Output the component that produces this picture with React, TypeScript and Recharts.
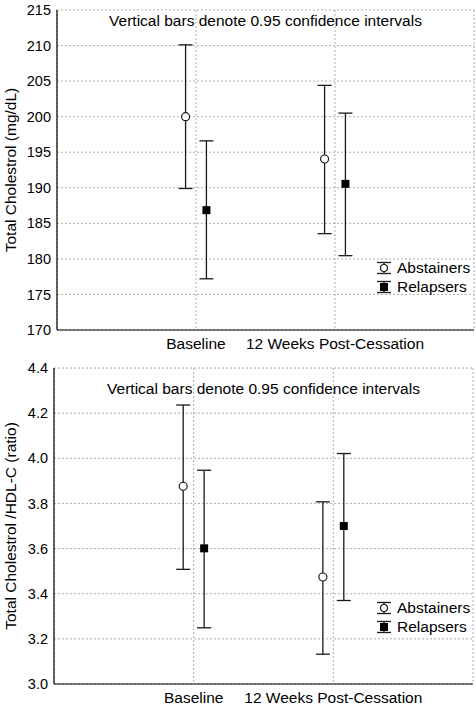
import React from 'react'
import { ComposedChart, Scatter, ErrorBar, XAxis, YAxis, CartesianGrid } from 'recharts'

const categories = ['Baseline', '12 Weeks Post-Cessation']
const groups = ['Abstainers', 'Relapsers']

// total cholesterol (mg/dL)
const cholAbstMean = [200.0, 194.05]
const cholAbstLow = [189.9, 183.55]
const cholAbstHigh = [210.1, 204.4]
const cholRelMean = [186.85, 190.55]
const cholRelLow = [177.2, 180.45]
const cholRelHigh = [196.6, 200.5]
const cholTicks = [170, 175, 180, 185, 190, 195, 200, 205, 210, 215]

// total cholesterol / HDL-C ratio
const ratioAbstMean = [3.876, 3.474]
const ratioAbstLow = [3.508, 3.132]
const ratioAbstHigh = [4.236, 3.807]
const ratioRelMean = [3.601, 3.7]
const ratioRelLow = [3.249, 3.37]
const ratioRelHigh = [3.947, 4.021]
const ratioTicks = [3.0, 3.2, 3.4, 3.6, 3.8, 4.0, 4.2, 4.4]

const note = 'Vertical bars denote 0.95 confidence intervals'
const FONT = '"Liberation Sans", Arial, Helvetica, sans-serif'
const INK = '#1a1a1a'
const TEXT_SIZE = 15.5

const buildRows = (mean: number[], low: number[], high: number[], shift: number) =>
  mean.map((m, i) => ({ x: i + 1 + shift, y: m, err: [m - low[i], high[i] - m] }))

const OpenCircle = (p: any) => (
  <circle cx={p.cx} cy={p.cy} r={4} fill="#fff" stroke={INK} strokeWidth={1.2} />
)
const FilledSquare = (p: any) => (
  <rect x={p.cx - 4} y={p.cy - 4} width={8} height={8} fill="#000" />
)

function LegendIcon({ filled }: { filled: boolean }) {
  return (
    <svg width={18} height={14} style={{ display: 'block' }}>
      <line x1={2} y1={1.5} x2={16} y2={1.5} stroke={INK} strokeWidth={1.3} />
      <line x1={2} y1={12.5} x2={16} y2={12.5} stroke={INK} strokeWidth={1.3} />
      <line x1={9} y1={1.5} x2={9} y2={12.5} stroke={INK} strokeWidth={1.3} />
      {filled ? (
        <rect x={5} y={3} width={8} height={8} fill="#000" />
      ) : (
        <circle cx={9} cy={7} r={3.5} fill="#fff" stroke={INK} strokeWidth={1.2} />
      )}
    </svg>
  )
}

type PanelProps = {
  top: number
  height: number
  yWidth: number
  xHeight: number
  rightGap: number
  ticks: number[]
  fmt: (v: number) => string
  yLabel: string
  abst: { x: number; y: number; err: number[] }[]
  rel: { x: number; y: number; err: number[] }[]
  noteTop: number
  legendTop: number
  xTickMargin: number
}

function Panel(props: PanelProps) {
  const { top, height, yWidth, xHeight, rightGap, ticks, fmt, yLabel, abst, rel } = props
  const domain: [number, number] = [ticks[0], ticks[ticks.length - 1]]
  const plotLeft = yWidth
  const plotRight = 476 - rightGap
  return (
    <div style={{ position: 'absolute', left: 0, top, width: 476, height }}>
      <ComposedChart
        width={476}
        height={height}
        margin={{ top: 10, right: rightGap, bottom: 0, left: 0 }}
        style={{ fontFamily: FONT }}
      >
        <CartesianGrid stroke="#9a9a9a" strokeDasharray="2 2" strokeWidth={0.8} />
        <XAxis
          type="number"
          dataKey="x"
          domain={[0, 3]}
          ticks={[1, 2]}
          tickFormatter={(v: number) => categories[v - 1]}
          height={xHeight}
          tickSize={0}
          tickMargin={props.xTickMargin}
          axisLine={{ stroke: '#000', strokeWidth: 1.2 }}
          tick={{ fill: '#000', fontSize: TEXT_SIZE }}
          allowDataOverflow
        />
        <XAxis
          xAxisId="top"
          orientation="top"
          type="number"
          domain={[0, 3]}
          ticks={[1, 2]}
          height={0}
          tick={false}
          tickLine={false}
          axisLine={{ stroke: '#000', strokeWidth: 1.2 }}
        />
        <YAxis
          type="number"
          domain={domain}
          ticks={ticks}
          tickFormatter={fmt}
          width={yWidth}
          tickSize={0}
          tickMargin={6}
          axisLine={{ stroke: '#000', strokeWidth: 1.2 }}
          tick={{ fill: '#000', fontSize: 14.5 }}
          label={{
            value: yLabel,
            angle: -90,
            position: 'insideLeft',
            offset: 10,
            style: { textAnchor: 'middle', fill: '#000', fontSize: TEXT_SIZE },
          }}
        />
        <YAxis
          yAxisId="right"
          orientation="right"
          type="number"
          domain={domain}
          ticks={ticks}
          width={0}
          mirror
          tickSize={3}
          tickFormatter={() => ''}
          tickLine={{ stroke: '#000' }}
          axisLine={{ stroke: '#000', strokeWidth: 1.2 }}
        />
        <Scatter name={groups[0]} data={abst} dataKey="y" shape={OpenCircle} isAnimationActive={false}>
          <ErrorBar dataKey="err" direction="y" width={7} stroke={INK} strokeWidth={1.3} isAnimationActive={false} />
        </Scatter>
        <Scatter name={groups[1]} data={rel} dataKey="y" shape={FilledSquare} isAnimationActive={false}>
          <ErrorBar dataKey="err" direction="y" width={7} stroke={INK} strokeWidth={1.3} isAnimationActive={false} />
        </Scatter>
      </ComposedChart>
      <div
        style={{
          position: 'absolute',
          left: plotLeft,
          width: plotRight - plotLeft,
          top: props.noteTop,
          textAlign: 'center',
          fontFamily: FONT,
          fontSize: TEXT_SIZE,
          lineHeight: '19px',
          color: '#000',
          whiteSpace: 'nowrap',
        }}
      >
        {note}
      </div>
      <div
        style={{
          position: 'absolute',
          left: 375,
          top: props.legendTop,
          fontFamily: FONT,
          fontSize: TEXT_SIZE,
          lineHeight: '19px',
          color: '#000',
        }}
      >
        {groups.map((g, i) => (
          <div key={g} style={{ display: 'flex', alignItems: 'center', height: 19 }}>
            <LegendIcon filled={i === 1} />
            <span style={{ marginLeft: 4 }}>{g}</span>
          </div>
        ))}
      </div>
    </div>
  )
}

export default function App() {
  const shift = 0.075
  return (
    <div style={{ position: 'absolute', left: 0, top: 0, width: 476, height: 706, background: '#fff' }}>
      <Panel
        top={0}
        height={360}
        yWidth={57}
        xHeight={30}
        rightGap={2}
        ticks={cholTicks}
        fmt={(v) => String(v)}
        yLabel="Total Cholestrol (mg/dL)"
        abst={buildRows(cholAbstMean, cholAbstLow, cholAbstHigh, -shift)}
        rel={buildRows(cholRelMean, cholRelLow, cholRelHigh, shift)}
        noteTop={11}
        legendTop={258}
        xTickMargin={8}
      />
      <Panel
        top={358}
        height={348}
        yWidth={54}
        xHeight={22}
        rightGap={3}
        ticks={ratioTicks}
        fmt={(v) => v.toFixed(1)}
        yLabel="Total Cholestrol /HDL-C (ratio)"
        abst={buildRows(ratioAbstMean, ratioAbstLow, ratioAbstHigh, -shift)}
        rel={buildRows(ratioRelMean, ratioRelLow, ratioRelHigh, shift)}
        noteTop={21}
        legendTop={240}
        xTickMargin={8}
      />
    </div>
  )
}
